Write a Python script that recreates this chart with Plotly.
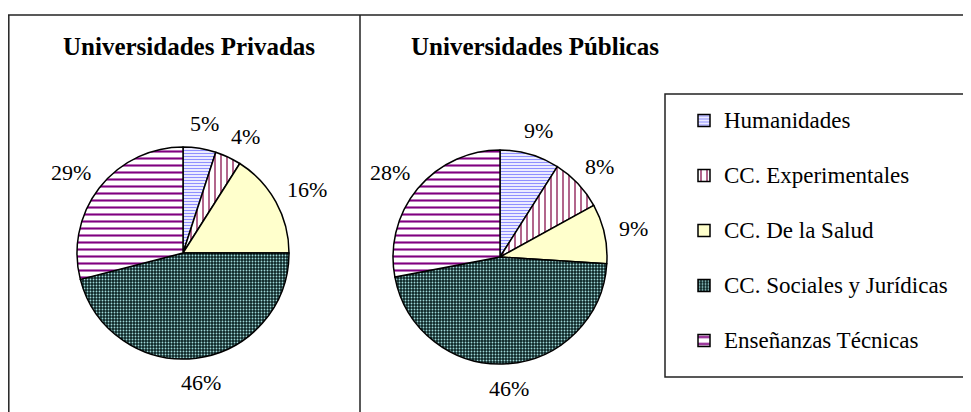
import math
import plotly.graph_objects as go

categories = ["Humanidades", "CC. Experimentales", "CC. De la Salud",
              "CC. Sociales y Jurídicas", "Enseñanzas Técnicas"]
privadas = [5, 4, 16, 46, 29]
publicas = [9, 8, 9, 46, 28]
titles = ["Universidades Privadas", "Universidades Públicas"]

# page is offset by the default 8px body margin
OFF = 8
W, H = 971 - OFF, 412 - OFF
FONT = "Liberation Serif"
LABEL_FS = 22

pattern = dict(
    shape=["-", "|", "", ".", "-"],
    fgcolor=["#8f8fff", "#993366", "#FFFFCC", "#9fd8d8", "#800080"],
    bgcolor=["#ffffff", "#ffffff", "#FFFFCC", "#0c2424", "#ffffff"],
    size=[3, 6, 6, 3, 7],
    solidity=[0.45, 0.25, 0.5, 0.3, 0.3],
    fillmode="replace",
)
colors = ["#c8c8ff", "#ffffff", "#FFFFCC", "#2f4f4f", "#ffffff"]

legend_labels = ['<span style="font-family:Liberation Serif;font-size:23px">'
                 + c + "</span><br>\u00a0" for c in categories]


def px(x):
    return (x - OFF) / W


def py(y):
    return 1 - (y - OFF) / H


def pie(values, cx, cy, r, show):
    return go.Pie(
        labels=legend_labels,
        values=values,
        sort=False,
        direction="clockwise",
        rotation=0,
        textinfo="none",
        marker=dict(colors=colors, pattern=pattern,
                    line=dict(color="black", width=1.5)),
        domain=dict(x=[px(cx - r), px(cx + r)], y=[py(cy + r), py(cy - r)]),
        showlegend=show,
        hoverinfo="skip",
    )


def pct_labels(values, cx, cy, r, gap=15):
    """Percent labels placed outside each slice, computed from the data."""
    total = sum(values)
    out = []
    cum = 0
    prev = None
    for v in values:
        txt = f"{round(100 * v / total)}%"
        w = (len(txt) - 1) * 0.5 * LABEL_FS + 0.833 * LABEL_FS
        h = 0.9 * LABEL_FS
        ang = 2 * math.pi * (cum + v / 2) / total
        cum += v

        def place(a):
            s, c = math.sin(a), math.cos(a)
            x = cx + (r + gap) * s + w / 2 * s
            y = cy - (r + gap) * c - h / 2 * c
            return x, y

        x, y = place(ang)
        if prev is not None:
            # push clockwise until the label no longer overlaps the previous
            while (abs(x - prev[0]) < (w + prev[2]) / 2 + 12
                   and abs(y - prev[1]) < (h + prev[3]) / 2):
                ang += 0.01
                x, y = place(ang)
        prev = (x, y, w, h)
        out.append(dict(text=txt, x=px(x), y=py(y),
                        font=dict(family=FONT, size=LABEL_FS, color="black")))
    return out


fig = go.Figure()
fig.add_trace(pie(privadas, 183, 253, 106, True))
fig.add_trace(pie(publicas, 500, 257, 107, False))

shapes = [
    dict(type="line", x0=px(8), x1=px(980), y0=py(15), y1=py(15)),
    dict(type="line", x0=px(8.8), x1=px(8.8), y0=py(15), y1=py(420)),
    dict(type="line", x0=px(360), x1=px(360), y0=py(15), y1=py(420)),
    dict(type="rect", x0=px(665), x1=px(990), y0=py(94), y1=py(377)),
]
for s in shapes:
    s.update(xref="paper", yref="paper", line=dict(color="#222", width=1.5))

annotations = [
    dict(text="<b>" + titles[0] + "</b>", x=px(189), y=py(47),
         font=dict(family=FONT, size=25, color="black")),
    dict(text="<b>" + titles[1] + "</b>", x=px(535), y=py(47),
         font=dict(family=FONT, size=25, color="black")),
]
annotations += pct_labels(privadas, 183, 253, 106)
annotations += pct_labels(publicas, 500, 257, 107)
for a in annotations:
    a.update(xref="paper", yref="paper", showarrow=False,
             xanchor="center", yanchor="middle")

fig.update_layout(
    width=W, height=H,
    margin=dict(l=0, r=0, t=0, b=0),
    paper_bgcolor="white", plot_bgcolor="white",
    font=dict(family=FONT, color="black"),
    shapes=shapes, annotations=annotations,
    legend=dict(x=px(684), y=py(101), xanchor="left", yanchor="top",
                font=dict(family=FONT, size=20, color="black"),
                valign="top", borderwidth=0, bgcolor="rgba(0,0,0,0)",
                traceorder="normal"),
)

fig.write_html("out.html")
